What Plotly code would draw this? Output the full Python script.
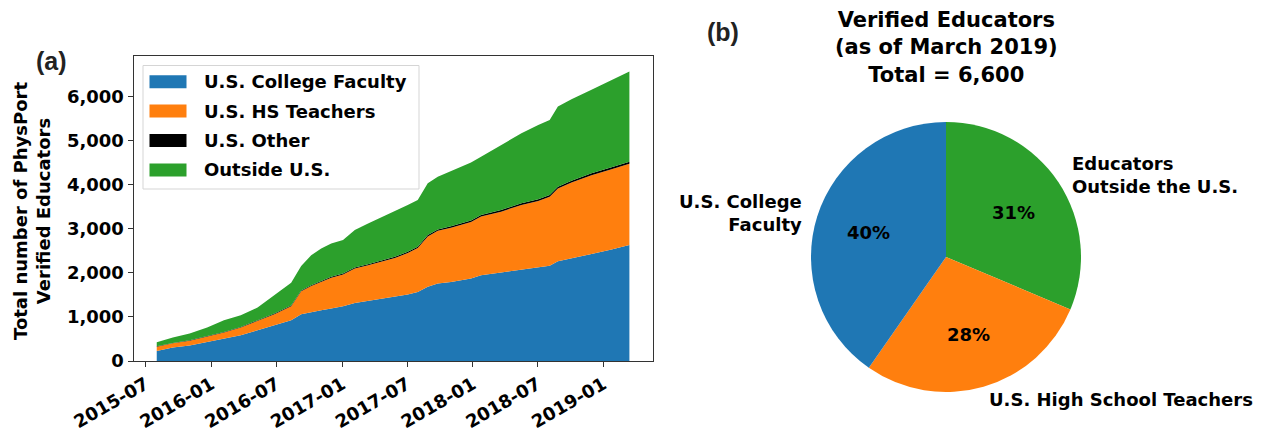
import math
import plotly.graph_objects as go

W, H = 1269, 444
OFF = 8  # page body margin in the browser; reference pixel -> figure pixel

# ---------------- data ----------------
dates = ["2015-08-01", "2015-09-15", "2015-11-01", "2015-12-20", "2016-02-05",
         "2016-03-23", "2016-05-09", "2016-06-25", "2016-08-11", "2016-09-08",
         "2016-10-06", "2016-11-03", "2016-12-01", "2017-01-03", "2017-02-05",
         "2017-03-14", "2017-04-21", "2017-05-28", "2017-07-03", "2017-07-31",
         "2017-08-28", "2017-09-25", "2017-11-01", "2017-12-27", "2018-01-24",
         "2018-03-21", "2018-05-17", "2018-07-03", "2018-08-04", "2018-08-27",
         "2018-10-04", "2018-11-29", "2019-01-24", "2019-03-15"]
college = [227, 304, 350, 432, 509, 584, 698, 811, 925, 1060, 1114, 1152, 1190, 1243,
           1318, 1364, 1402, 1455, 1508, 1568, 1682, 1758, 1790, 1872, 1948, 2009,
           2076, 2121, 2159, 2265, 2327, 2425, 2532, 2630]
hs = [99, 97, 110, 118, 138, 176, 213, 251, 318, 521, 586, 645, 697, 719, 779, 808,
      845, 882, 941, 994, 1144, 1196, 1232, 1284, 1328, 1380, 1464, 1509, 1568, 1650,
      1723, 1791, 1819, 1848]
other = [8, 9, 10, 11, 12, 13, 14, 15, 17, 19, 20, 21, 22, 23, 24, 25, 26, 27, 28, 29,
         31, 32, 33, 34, 35, 36, 37, 38, 39, 40, 41, 42, 43, 45]
outside = [91, 121, 152, 198, 266, 266, 288, 416, 515, 555, 682, 736, 759, 758, 849,
           925, 986, 1045, 1062, 1061, 1175, 1196, 1260, 1315, 1325, 1477, 1590, 1688,
           1704, 1818, 1849, 1894, 1970, 2045]

series_names = ["U.S. College Faculty", "U.S. HS Teachers", "U.S. Other", "Outside U.S."]
series_colors = ["#1f77b4", "#ff7f0e", "#000000", "#2ca02c"]

tick_dates = ["2015-07-01", "2016-01-01", "2016-07-01", "2017-01-01",
              "2017-07-01", "2018-01-01", "2018-07-01", "2019-01-01"]
tick_text = ["2015-07", "2016-01", "2016-07", "2017-01",
             "2017-07", "2018-01", "2018-07", "2019-01"]

pie_labels = ["Educators<br>Outside the U.S.", "U.S. High School Teachers",
              "U.S. College<br>Faculty"]
pie_values = [outside[-1], hs[-1], college[-1]]
pie_colors = ["#2ca02c", "#ff7f0e", "#1f77b4"]

# ---------------- layout geometry (reference pixels) ----------------
FONT = "DejaVu Sans"
ax_l, ax_r, ax_t, ax_b = 133.5, 653, 56, 361
pie_cx, pie_cy, pie_r = 946, 257, 135


def px(x):
    return (x - OFF) / W


def py(y):
    return 1 - (y - OFF) / H


fig = go.Figure()

for name, vals, col in zip(series_names, [college, hs, other, outside], series_colors):
    fig.add_trace(go.Scatter(
        x=dates, y=vals, name=name, mode="lines", stackgroup="one",
        line=dict(width=0, color=col), fillcolor=col, showlegend=False,
        hoverinfo="x+y+name"))

fig.add_trace(go.Pie(
    labels=pie_labels, values=pie_values, sort=False, direction="clockwise",
    rotation=0, marker=dict(colors=pie_colors, line=dict(width=0)),
    textinfo="none", showlegend=False,
    domain=dict(x=[px(pie_cx - pie_r), px(pie_cx + pie_r)],
                y=[py(pie_cy + pie_r), py(pie_cy - pie_r)])))

ann = []
shapes = []
bold18 = dict(family=FONT, size=18, color="black", weight="bold")

# pie labels and percentages, placed from the slice fractions
total = sum(pie_values)
ang = 90.0
for lab, v in zip(pie_labels, pie_values):
    frac = v / total
    mid = math.radians(ang - frac * 180.0)
    ang -= frac * 360.0
    c, s = math.cos(mid), math.sin(mid)
    ann.append(dict(x=px(pie_cx + 0.6 * pie_r * c), y=py(pie_cy - 0.6 * pie_r * s),
                    xref="paper", yref="paper", text=f"{round(frac * 100)}%",
                    showarrow=False, xanchor="center", yanchor="middle", font=bold18))
    right = c < 0
    ann.append(dict(x=px(pie_cx + 1.1 * pie_r * c), y=py(pie_cy - 1.1 * pie_r * s),
                    xref="paper", yref="paper", text=lab, showarrow=False,
                    xanchor="right" if right else "left", yanchor="middle",
                    align="right" if right else "left", font=bold18))

ann.append(dict(x=px(pie_cx), y=py(48), xref="paper", yref="paper",
                text="Verified Educators<br>(as of March 2019)<br>Total = 6,600",
                showarrow=False, xanchor="center", yanchor="middle", align="center",
                font=dict(family=FONT, size=21, color="black", weight="bold")))
ann.append(dict(x=px(32), y=py(211), xref="paper", yref="paper",
                text="Total number of PhysPort<br>Verified Educators", textangle=-90,
                showarrow=False, xanchor="center", yanchor="middle", align="center",
                font=bold18))
ann.append(dict(x=px(51), y=py(61), xref="paper", yref="paper", text="(a)",
                showarrow=False, xanchor="center", yanchor="middle",
                font=dict(family="Liberation Sans", size=25, color="#222", weight="bold")))
ann.append(dict(x=px(723), y=py(32), xref="paper", yref="paper", text="(b)",
                showarrow=False, xanchor="center", yanchor="middle",
                font=dict(family="Liberation Sans", size=25, color="#222", weight="bold")))

# legend (matplotlib-style boxes)
leg_l, leg_t, leg_r, leg_b = 143, 65.5, 419, 189
shapes.append(dict(type="rect", xref="paper", yref="paper",
                   x0=px(leg_l), x1=px(leg_r), y0=py(leg_b), y1=py(leg_t),
                   line=dict(color="#d5d5d5", width=1), fillcolor="rgba(255,255,255,0.8)",
                   layer="above"))
for i, (name, col) in enumerate(zip(series_names, series_colors)):
    yc = 81.7 + i * 29.4
    shapes.append(dict(type="rect", xref="paper", yref="paper",
                       x0=px(149.5), x1=px(186.5), y0=py(yc + 6.5), y1=py(yc - 6.5),
                       line=dict(width=0), fillcolor=col, layer="above"))
    ann.append(dict(x=px(202), y=py(yc), xref="paper", yref="paper", text=name,
                    showarrow=False, xanchor="left", yanchor="middle", font=bold18))

axis_common = dict(ticks="outside", ticklen=5, tickwidth=1, tickcolor="#333",
                   showline=True, linecolor="#333", linewidth=1, mirror=True,
                   showgrid=False, zeroline=False, automargin=False,
                   tickfont=bold18)

fig.update_layout(
    width=W, height=H, margin=dict(l=0, r=0, t=0, b=0, autoexpand=False),
    paper_bgcolor="white", plot_bgcolor="white",
    showlegend=False,
    annotations=ann, shapes=shapes,
    xaxis=dict(domain=[px(ax_l), px(ax_r)], type="date",
               range=["2015-05-28", "2019-05-20"],
               tickvals=tick_dates, ticktext=tick_text, tickangle=-30, **axis_common),
    yaxis=dict(domain=[py(ax_b), py(ax_t)], range=[0, 6920],
               tickvals=[0, 1000, 2000, 3000, 4000, 5000, 6000], tickformat=",d",
               **axis_common),
)

fig.write_html("out.html")
